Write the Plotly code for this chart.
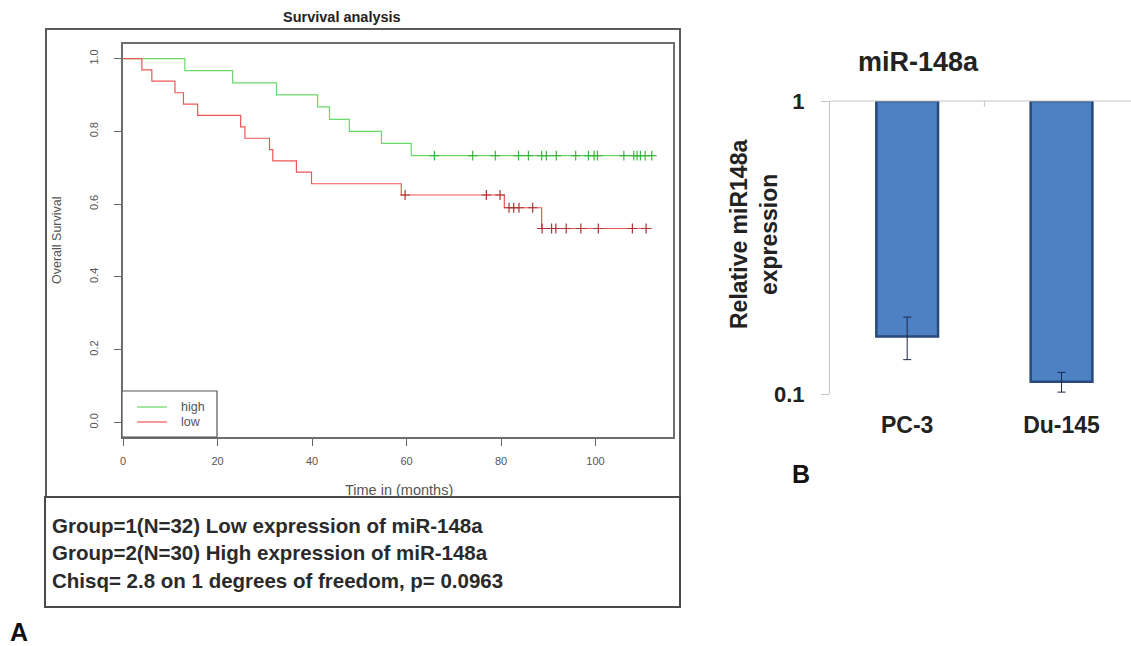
import numpy as np
import plotly.graph_objects as go

# ---------------- Data: Kaplan-Meier (panel A) ----------------
high_times = [0, 13.1, 23.2, 32.5, 41.2, 43.7, 47.9, 54.7, 61.0, 112.0]
high_surv = [1.0, 0.967, 0.933, 0.900, 0.867, 0.833, 0.800, 0.767, 0.733, 0.733]
high_censor = [65.9, 74.0, 78.8, 83.7, 85.8, 88.6, 89.6, 91.7, 95.8, 98.5,
               99.7, 100.4, 106.0, 108.1, 108.8, 109.5, 110.5, 111.9]

low_times = [0, 4.0, 6.1, 11.0, 12.8, 15.8, 24.9, 25.8, 31.0, 31.7, 36.7,
             39.9, 58.9, 80.7, 88.6, 111.9]
low_surv = [1.0, 0.969, 0.938, 0.906, 0.875, 0.844, 0.812, 0.781, 0.750,
            0.719, 0.688, 0.656, 0.625, 0.590, 0.533, 0.533]
low_censor = [59.7, 76.9, 79.8, 81.7, 82.7, 83.8, 86.7, 88.7, 90.7, 91.6,
              93.8, 96.9, 100.6, 107.8, 110.7]

group_labels = ["high", "low"]

km_xticks = [0, 20, 40, 60, 80, 100]
km_yticks = [0.0, 0.2, 0.4, 0.6, 0.8, 1.0]
km_yticklabels = ["0.0", "0.2", "0.4", "0.6", "0.8", "1.0"]

stats_lines = [
    "Group=1(N=32) Low expression of miR-148a",
    "Group=2(N=30) High expression of miR-148a",
    "Chisq= 2.8 on 1 degrees of freedom, p= 0.0963",
]

# ---------------- Data: bar chart (panel B) ----------------
cell_lines = ["PC-3", "Du-145"]
rel_expr = [0.157, 0.110]
rel_err = [0.026, 0.0085]
bar_yticks = [0.1, 1]
bar_yticklabels = ["0.1", "1"]

W, H = 1131, 646
FONT = "Arial, Liberation Sans, sans-serif"


def px(xp):
    return xp / W


def py(yp):
    return 1 - yp / H


def surv_at(times, surv, t):
    i = np.searchsorted(np.asarray(times), t, side="right") - 1
    return surv[i]


GREEN_LINE = "#6ad96a"
RED_LINE = "#ee5656"
GREEN_MARK = "#3fb43f"
RED_MARK = "#a83434"

fig = go.Figure()

fig.add_trace(go.Scatter(x=high_times, y=high_surv, mode="lines",
                         name=group_labels[0], showlegend=False,
                         line=dict(color=GREEN_LINE, width=1.2, shape="hv"),
                         xaxis="x", yaxis="y"))
fig.add_trace(go.Scatter(x=low_times, y=low_surv, mode="lines",
                         name=group_labels[1], showlegend=False,
                         line=dict(color=RED_LINE, width=1.2, shape="hv"),
                         xaxis="x", yaxis="y"))
fig.add_trace(go.Scatter(x=high_censor,
                         y=[surv_at(high_times, high_surv, t) for t in high_censor],
                         mode="markers", showlegend=False,
                         marker=dict(symbol="cross-thin", size=7,
                                     line=dict(color=GREEN_MARK, width=1.2)),
                         xaxis="x", yaxis="y"))
fig.add_trace(go.Scatter(x=low_censor,
                         y=[surv_at(low_times, low_surv, t) for t in low_censor],
                         mode="markers", showlegend=False,
                         marker=dict(symbol="cross-thin", size=7,
                                     line=dict(color=RED_MARK, width=1.2)),
                         xaxis="x", yaxis="y"))

# Bars hanging from 1 on a log axis
fig.add_trace(go.Bar(x=cell_lines, y=[v - 1 for v in rel_expr], base=1,
                     width=0.4, showlegend=False,
                     marker=dict(color="#4d81c4",
                                 line=dict(color="#28497a", width=2.5)),
                     xaxis="x2", yaxis="y2"))
fig.add_trace(go.Scatter(x=cell_lines, y=rel_expr, mode="markers",
                         showlegend=False,
                         marker=dict(size=1, opacity=0),
                         error_y=dict(type="data", array=rel_err, visible=True,
                                      color="#1b2a48", thickness=1, width=4),
                         xaxis="x2", yaxis="y2"))

tick_font_km = dict(family=FONT, size=11, color="#555555")
bold_b = dict(family=FONT, size=22, color="#222222", weight="bold")

fig.update_layout(
    width=W, height=H, autosize=False,
    margin=dict(l=0, r=0, t=0, b=0, autoexpand=False),
    paper_bgcolor="white", plot_bgcolor="white",
    font=dict(family=FONT),
    showlegend=False,
    xaxis=dict(domain=[px(123), px(673)], range=[0, 116.4], anchor="y",
               tickvals=km_xticks, ticks="outside", ticklen=7,
               tickcolor="#666666", tickfont=tick_font_km,
               showline=True, linecolor="#6e6e6e", linewidth=1.5,
               mirror=True, showgrid=False, zeroline=False,
               ticklabelstandoff=6, automargin=False),
    yaxis=dict(domain=[py(437), py(44)], range=[-0.04, 1.04], anchor="x",
               tickvals=km_yticks, ticktext=km_yticklabels, tickangle=-90,
               ticks="outside", ticklen=7, tickcolor="#666666",
               tickfont=tick_font_km,
               showline=True, linecolor="#6e6e6e", linewidth=1.5,
               mirror=True, showgrid=False, zeroline=False,
               ticklabelstandoff=12, automargin=False),
    xaxis2=dict(domain=[px(830), 1.0], range=[-0.5, 1.45], anchor="y2",
                type="category", showline=False, ticks="", showgrid=False,
                zeroline=False, tickfont=dict(bold_b, size=23),
                ticklabelstandoff=15, automargin=False),
    yaxis2=dict(domain=[py(394), py(101)], type="log", range=[-1, 0],
                anchor="x2", tickvals=bar_yticks, ticktext=bar_yticklabels,
                ticks="outside", ticklen=8, tickcolor="#c4c4c4",
                showline=True, linecolor="#c4c4c4", linewidth=1,
                showgrid=False, zeroline=False, tickfont=bold_b,
                ticklabelstandoff=12, automargin=False),
    bargap=0.5,
)

# legend box (R style, drawn inside the survival plot)
LEG_X0, LEG_X1, LEG_Y0, LEG_Y1 = 122, 217, 391, 437
legend_rows_y = [407, 422]
shapes = [
    # outer frame of the survival panel
    dict(type="rect", xref="paper", yref="paper", x0=px(46), x1=px(680),
         y0=py(497), y1=py(29), line=dict(color="#5a5a5a", width=2)),
    # statistics box
    dict(type="rect", xref="paper", yref="paper", x0=px(45), x1=px(680),
         y0=py(607), y1=py(497), line=dict(color="#4a4a4a", width=2)),
    # legend frame
    dict(type="rect", xref="paper", yref="paper", x0=px(LEG_X0), x1=px(LEG_X1),
         y0=py(LEG_Y1), y1=py(LEG_Y0), line=dict(color="#555555", width=1.2),
         fillcolor="white", layer="above"),
    # category axis line at the top of the bar chart (y = 1)
    dict(type="line", xref="paper", yref="paper", x0=px(830), x1=1.0,
         y0=py(101), y1=py(101), line=dict(color="#c4c4c4", width=1)),
    # tick mark between categories
    dict(type="line", xref="x2", yref="paper", x0=0.5, x1=0.5,
         y0=py(101), y1=py(107), line=dict(color="#c4c4c4", width=1)),
]
for col, yy in zip([GREEN_LINE, RED_LINE], legend_rows_y):
    shapes.append(dict(type="line", xref="paper", yref="paper",
                       x0=px(137), x1=px(167), y0=py(yy), y1=py(yy),
                       line=dict(color=col, width=1.2), layer="above"))
fig.update_layout(shapes=shapes)

ann = [
    dict(text="<b>Survival analysis</b>", x=px(342), y=py(17), xref="paper",
         yref="paper", showarrow=False, xanchor="center", yanchor="middle",
         font=dict(family=FONT, size=14.5, color="#222222")),
    dict(text="Overall Survival", x=px(57), y=py(240), xref="paper",
         yref="paper", showarrow=False, textangle=-90, xanchor="center",
         yanchor="middle", font=dict(family=FONT, size=12.5, color="#555555")),
    dict(text="Time in (months)", x=px(399), y=py(490), xref="paper",
         yref="paper", showarrow=False, xanchor="center", yanchor="middle",
         font=dict(family=FONT, size=14.5, color="#555555")),
    dict(text="<b>miR-148a</b>", x=px(918), y=py(62), xref="paper",
         yref="paper", showarrow=False, xanchor="center", yanchor="middle",
         font=dict(family=FONT, size=27, color="#222222")),
    dict(text="<b>Relative miR148a<br>expression</b>", x=px(754), y=py(235),
         xref="paper", yref="paper", showarrow=False, textangle=-90,
         xanchor="center", yanchor="middle",
         font=dict(family=FONT, size=23, color="#222222")),
    dict(text="<b>A</b>", x=px(19), y=py(632), xref="paper", yref="paper",
         showarrow=False, xanchor="center", yanchor="middle",
         font=dict(family=FONT, size=25, color="#111111")),
    dict(text="<b>B</b>", x=px(801), y=py(474), xref="paper", yref="paper",
         showarrow=False, xanchor="center", yanchor="middle",
         font=dict(family=FONT, size=25, color="#111111")),
]
for lab, yy in zip(group_labels, legend_rows_y):
    ann.append(dict(text=lab, x=px(179), y=py(yy), xref="paper", yref="paper",
                    showarrow=False, xanchor="left", yanchor="middle",
                    font=dict(family=FONT, size=12.5, color="#555555")))
for i, line in enumerate(stats_lines):
    ann.append(dict(text="<b>" + line + "</b>", x=px(50), y=py(525 + 27.5 * i),
                    xref="paper", yref="paper", showarrow=False,
                    xanchor="left", yanchor="middle",
                    font=dict(family=FONT, size=20.5, color="#2a2a2a")))
fig.update_layout(annotations=ann)

fig.write_html(
    "out.html",
    config={"displayModeBar": False},
    post_script="document.body.style.margin='0';"
                "document.body.style.overflow='hidden';",
)
